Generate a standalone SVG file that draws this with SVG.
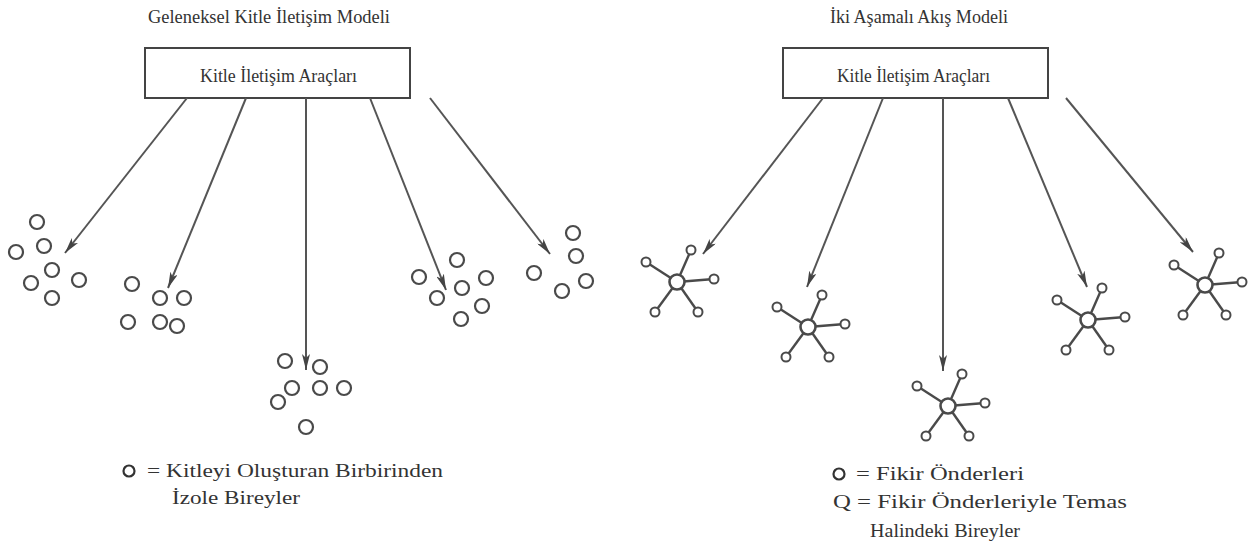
<svg xmlns="http://www.w3.org/2000/svg" xmlns:xlink="http://www.w3.org/1999/xlink" width="1252" height="550" viewBox="0 0 1252 550">
  <style>
    .txt { font-family: "Liberation Serif", "Times New Roman", serif; fill: #333; font-size: 18px; }
    .box { fill: #fff; stroke: #444; stroke-width: 2; }
    .link { fill: none; stroke: #555; stroke-width: 2; }
    .ind { fill: #fff; stroke: #4a4a4a; stroke-width: 2.2; }
    .spoke { stroke: #4a4a4a; stroke-width: 2.4; }
    .hub { fill: #fff; stroke: #4a4a4a; stroke-width: 2.6; }
    .sat { fill: #fff; stroke: #4a4a4a; stroke-width: 2; }
  </style>
  <defs>
    <marker id="arrow" viewBox="0 0 16 8" refX="16" refY="4" markerWidth="16" markerHeight="8" markerUnits="userSpaceOnUse" orient="auto">
      <path d="M0,0 L16,4 L0,8 L4,4 z" fill="#444"/>
    </marker>
    <!-- opinion leader with five contacts -->
    <g id="star">
      <line class="spoke" x1="0" y1="0" x2="-31" y2="-20"/>
      <line class="spoke" x1="0" y1="0" x2="14" y2="-32"/>
      <line class="spoke" x1="0" y1="0" x2="37" y2="-3"/>
      <line class="spoke" x1="0" y1="0" x2="21" y2="30"/>
      <line class="spoke" x1="0" y1="0" x2="-22" y2="30"/>
      <circle class="sat" cx="-31" cy="-20" r="4.5"/>
      <circle class="sat" cx="14" cy="-32" r="4.5"/>
      <circle class="sat" cx="37" cy="-3" r="4.5"/>
      <circle class="sat" cx="21" cy="30" r="4.5"/>
      <circle class="sat" cx="-22" cy="30" r="4.5"/>
      <circle class="hub" cx="0" cy="0" r="7.5"/>
    </g>
  </defs>

  <rect width="1252" height="550" fill="#fff"/>

  <!-- titles -->
  <text class="txt" x="148" y="23" textLength="242" lengthAdjust="spacingAndGlyphs">Geleneksel Kitle İletişim Modeli</text>
  <text class="txt" x="830" y="23" textLength="178" lengthAdjust="spacingAndGlyphs">İki Aşamalı Akış Modeli</text>

  <!-- media boxes -->
  <g id="media-left">
    <rect class="box" x="145" y="48" width="265" height="50"/>
    <text class="txt" x="200" y="82" textLength="157" lengthAdjust="spacingAndGlyphs">Kitle İletişim Araçları</text>
  </g>
  <g id="media-right">
    <rect class="box" x="783" y="48" width="265" height="50"/>
    <text class="txt" x="837" y="82" textLength="153" lengthAdjust="spacingAndGlyphs">Kitle İletişim Araçları</text>
  </g>

  <!-- connectors -->
  <g id="connectors">
    <path class="link" d="M187,98 L65,253" marker-end="url(#arrow)"/>
    <path class="link" d="M246,98 L168,288" marker-end="url(#arrow)"/>
    <path class="link" d="M306,98 L306,370" marker-end="url(#arrow)"/>
    <path class="link" d="M370,98 L446,290" marker-end="url(#arrow)"/>
    <path class="link" d="M430,98 L550,254" marker-end="url(#arrow)"/>
    <path class="link" d="M823,98 L703,254" marker-end="url(#arrow)"/>
    <path class="link" d="M883,98 L807,287" marker-end="url(#arrow)"/>
    <path class="link" d="M943,98 L943,371" marker-end="url(#arrow)"/>
    <path class="link" d="M1008,98 L1087,287" marker-end="url(#arrow)"/>
    <path class="link" d="M1066,98 L1193,252" marker-end="url(#arrow)"/>
  </g>

  <!-- isolated individuals -->
  <g id="mass-1">
    <circle class="ind" cx="37" cy="222" r="7"/>
    <circle class="ind" cx="44" cy="246" r="7"/>
    <circle class="ind" cx="16" cy="252" r="7"/>
    <circle class="ind" cx="52" cy="270" r="7"/>
    <circle class="ind" cx="79" cy="280" r="7"/>
    <circle class="ind" cx="31" cy="283" r="7"/>
    <circle class="ind" cx="52" cy="298" r="7"/>
  </g>
  <g id="mass-2">
    <circle class="ind" cx="132" cy="284" r="7"/>
    <circle class="ind" cx="160" cy="298" r="7"/>
    <circle class="ind" cx="184" cy="298" r="7"/>
    <circle class="ind" cx="128" cy="322" r="7"/>
    <circle class="ind" cx="160" cy="322" r="7"/>
    <circle class="ind" cx="177" cy="326" r="7"/>
  </g>
  <g id="mass-3">
    <circle class="ind" cx="285" cy="361" r="7"/>
    <circle class="ind" cx="320" cy="367" r="7"/>
    <circle class="ind" cx="292" cy="388" r="7"/>
    <circle class="ind" cx="320" cy="388" r="7"/>
    <circle class="ind" cx="344" cy="388" r="7"/>
    <circle class="ind" cx="278" cy="402" r="7"/>
    <circle class="ind" cx="306" cy="427" r="7"/>
  </g>
  <g id="mass-4">
    <circle class="ind" cx="457" cy="260" r="7"/>
    <circle class="ind" cx="419" cy="277" r="7"/>
    <circle class="ind" cx="486" cy="278" r="7"/>
    <circle class="ind" cx="462" cy="288" r="7"/>
    <circle class="ind" cx="437" cy="298" r="7"/>
    <circle class="ind" cx="482" cy="306" r="7"/>
    <circle class="ind" cx="461" cy="319" r="7"/>
  </g>
  <g id="mass-5">
    <circle class="ind" cx="573" cy="233" r="7"/>
    <circle class="ind" cx="576" cy="256" r="7"/>
    <circle class="ind" cx="534" cy="273" r="7"/>
    <circle class="ind" cx="586" cy="281" r="7"/>
    <circle class="ind" cx="562" cy="291" r="7"/>
  </g>

  <!-- opinion leaders and their contacts -->
  <g id="leader-1"><use xlink:href="#star" href="#star" transform="translate(677,282)"/></g>
  <g id="leader-2"><use xlink:href="#star" href="#star" transform="translate(808,327)"/></g>
  <g id="leader-3"><use xlink:href="#star" href="#star" transform="translate(948,406)"/></g>
  <g id="leader-4"><use xlink:href="#star" href="#star" transform="translate(1088,320)"/></g>
  <g id="leader-5"><use xlink:href="#star" href="#star" transform="translate(1205,285)"/></g>

  <!-- legends -->
  <g id="legend-left">
    <circle cx="129" cy="471" r="5.5" fill="none" stroke="#333" stroke-width="2.2"/>
    <text class="txt" x="147" y="477" textLength="296" lengthAdjust="spacingAndGlyphs">= Kitleyi Oluşturan Birbirinden</text>
    <text class="txt" x="172" y="504" textLength="128" lengthAdjust="spacingAndGlyphs">İzole Bireyler</text>
  </g>
  <g id="legend-right">
    <circle cx="839" cy="474" r="5.5" fill="none" stroke="#333" stroke-width="2.2"/>
    <text class="txt" x="856" y="480" textLength="168" lengthAdjust="spacingAndGlyphs">= Fikir Önderleri</text>
    <text class="txt" x="833" y="508" textLength="294" lengthAdjust="spacingAndGlyphs">Q = Fikir Önderleriyle Temas</text>
    <text class="txt" x="870" y="537" textLength="150" lengthAdjust="spacingAndGlyphs">Halindeki Bireyler</text>
  </g>
</svg>
